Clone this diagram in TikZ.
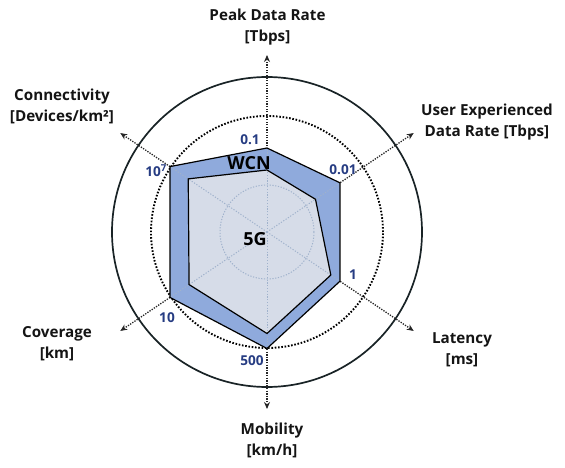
\documentclass[tikz,border=0pt]{standalone}
\usepackage{fontspec}
\setmainfont{Open Sans}
\usetikzlibrary{calc,arrows.meta}

\definecolor{wcnfill}{RGB}{143,170,220}
\definecolor{fivegfill}{RGB}{214,220,232}
\definecolor{valblue}{RGB}{38,60,130}
\definecolor{spokegray}{RGB}{160,178,204}
\definecolor{ringcol}{RGB}{25,35,38}

\begin{document}
\begin{tikzpicture}[x=1pt,y=-1pt,
  title/.style={font=\fontsize{15.2}{21}\selectfont\bfseries, align=center, text=black!92, inner sep=0pt},
  val/.style={font=\fontsize{13.6}{15}\selectfont\bfseries, text=valblue, inner sep=0pt},
  tag/.style={font=\fontsize{18}{20}\selectfont\bfseries, text=black, inner sep=0pt},
  ring/.style={draw=ringcol, line width=1.7pt},
  midring/.style={draw=black, line width=1.9pt, dash pattern=on 1.6pt off 1.7pt},
  axis/.style={draw=black!85, line width=1.3pt, dash pattern=on 1.3pt off 1.3pt,
    -{Stealth[length=7pt,width=6pt]}},
  faint/.style={draw=spokegray, line width=1pt, dash pattern=on 1.2pt off 1.6pt},
  poly/.style={draw=black, line width=1.2pt, line join=miter}
]
\useasboundingbox (0,0) rectangle (565,468);

% chart centre and the six axis end points
\coordinate (O) at (267,232);
\foreach \n/\a in {pk/-90,ue/-34,lt/34,mb/90,cv/146,cn/214}
  \coordinate (tip-\n) at ($(O)+(\a:177)$);

% rings
\draw[ring] (O) circle [radius=155pt];
\draw[midring] (O) circle [radius=116pt];

% axes
\foreach \n in {pk,ue,lt,mb,cv,cn}
  \draw[axis] (O) -- (tip-\n);

% WCN polygon
\coordinate (w1) at ($(O)+(-90:84)$);
\coordinate (w2) at ($(O)+(-34:88)$);
\coordinate (w3) at ($(O)+(34:88)$);
\coordinate (w4) at ($(O)+(90:116.5)$);
\coordinate (w5) at ($(O)+(146:117)$);
\coordinate (w6) at ($(O)+(214:117)$);
\fill[wcnfill] (w1) -- (w2) -- (w3) -- (w4) -- (w5) -- (w6) -- cycle;

% 5G polygon
\coordinate (g1) at ($(O)+(-90:62)$);
\coordinate (g2) at ($(O)+(-34:58.5)$);
\coordinate (g3) at ($(O)+(34:77)$);
\coordinate (g4) at ($(O)+(90:101.5)$);
\coordinate (g5) at ($(O)+(146:94)$);
\coordinate (g6) at ($(O)+(214:95)$);
\fill[fivegfill] (g1) -- (g2) -- (g3) -- (g4) -- (g5) -- (g6) -- cycle;

% faint grid inside the polygons
\foreach \v in {w1,w2,w3,w4,w5,w6}
  \draw[faint] (O) -- (\v);
\draw[faint] (O) circle [radius=47pt];

% outlines
\draw[poly] (w1) -- (w2) -- (w3) -- (w4) -- (w5) -- (w6) -- cycle;
\draw[poly] (g1) -- (g2) -- (g3) -- (g4) -- (g5) -- (g6) -- cycle;

% series names
\node[tag] (wcn) at (249,163) {WCN};
\node[tag] (fiveg) at (255,239) {5G};

% values
\node[val] (v-pk) at (250,140) {0.1};
\node[val] (v-ue) at (343,170) {0.01};
\node[val] (v-lt) at (353,275) {1};
\node[val] (v-mb) at (252,361) {500};
\node[val] (v-cv) at (167,318) {10};
\node[val] (v-cn) at (156,171) {10\textsuperscript{7}};

% axis titles
\node[title] (t-pk) at (267.5,27.5) {Peak Data Rate\\{[Tbps]}};
\node[title] (t-ue) at (487,122) {User Experienced\\Data Rate [Tbps]};
\node[title] (t-lt) at (462,350) {Latency\\{[ms]}};
\node[title] (t-mb) at (272,440) {Mobility\\{[km/h]}};
\node[title] (t-cv) at (57,344) {Coverage\\{[km]}};
\node[title] (t-cn) at (62,106.7) {Connectivity\\{[Devices/km²]}};
\end{tikzpicture}
\end{document}
